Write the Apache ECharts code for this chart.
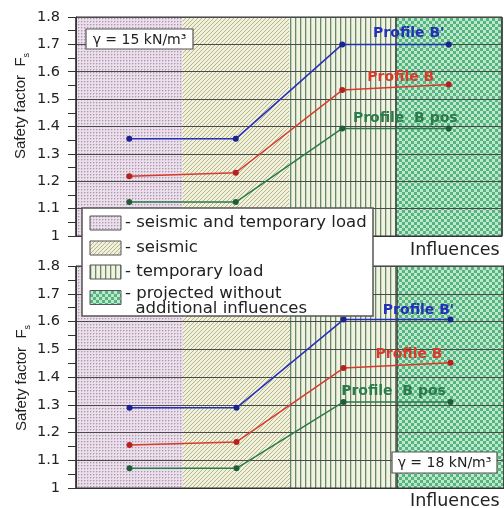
<!DOCTYPE html>
<html><head><meta charset="utf-8">
<script src="https://cdn.jsdelivr.net/npm/echarts@6/dist/echarts.min.js"></script>
<style>html,body{margin:0;padding:0;background:#fff}#c{width:504px;height:508px}</style>
</head><body><div id="c"></div>
<script>
// ---- data ----
const categories = ['seismic and temporary load', 'seismic', 'temporary load', 'projected without additional influences'];
const yTickLabels = ['1', '1.1', '1.2', '1.3', '1.4', '1.5', '1.6', '1.7', '1.8'];
const yMin = 1, yMax = 1.8, yStep = 0.1;
const seriesNames = ["Profile B'", 'Profile B', 'Profile  B pos'];
const top_B1 = [1.355, 1.355, 1.700, 1.700];
const top_B = [1.218, 1.231, 1.533, 1.553];
const top_Bpos = [1.124, 1.124, 1.393, 1.393];
const bot_B1 = [1.289, 1.289, 1.607, 1.607];
const bot_B = [1.155, 1.166, 1.432, 1.451];
const bot_Bpos = [1.071, 1.071, 1.310, 1.310];
const gammaTop = 'γ = 15 kN/m³';
const gammaBot = 'γ = 18 kN/m³';
const legendTexts = ['- seismic and temporary load', '- seismic', '- temporary load', '- projected without\n  additional influences'];
const xName = 'Influences';

// ---- patterns ----
function pat(w, h, draw) {
  const c = document.createElement('canvas'); c.width = w; c.height = h;
  const g = c.getContext('2d'); draw(g); return { image: c, repeat: 'repeat' };
}
const pPurple = pat(3, 3, g => { g.fillStyle = '#eddeed'; g.fillRect(0, 0, 3, 3); g.fillStyle = '#ab9cab'; g.fillRect(0, 0, 1, 1); g.fillStyle='#d0c2d0'; g.fillRect(1,0,1,1); g.fillRect(0,1,1,1); });
const pDiag = pat(4, 4, g => { g.fillStyle = '#f2f2da'; g.fillRect(0, 0, 4, 4); g.fillStyle = '#b3b392'; g.fillRect(3, 0, 1, 1); g.fillRect(2, 1, 1, 1); g.fillRect(1, 2, 1, 1); g.fillRect(0, 3, 1, 1); });
const pVert = pat(5, 1, g => { g.fillStyle = '#eff3df'; g.fillRect(0, 0, 5, 1); g.fillStyle = '#6b876b'; g.fillRect(0, 0, 1, 1); g.fillStyle = '#c9d3c0'; g.fillRect(1, 0, 1, 1); });
const pCheck = pat(6, 6, g => { g.fillStyle = '#bde8cd'; g.fillRect(0, 0, 6, 6); g.fillStyle = '#56b47e'; g.fillRect(0, 0, 3, 3); g.fillRect(3, 3, 3, 3); });
const patterns = [pPurple, pDiag, pVert, pCheck];

const colors = ['#2430b8', '#d83a2c', '#2a7a4c'];
const dotColors = ['#1a2490', '#b82020', '#1d5e38'];

const chart = echarts.init(document.getElementById('c'));
const FONT = 'DejaVu Sans';

function yAxisCfg(gi) {
  return {
    type: 'value', gridIndex: gi, min: yMin, max: yMax, interval: yStep, z: 3,
    axisLine: { show: true, lineStyle: { color: '#333', width: 1 } },
    axisTick: { show: true, length: 8, lineStyle: { color: '#333' } },
    minorTick: { show: true, splitNumber: 2, length: 8, lineStyle: { color: '#333' } },
    splitLine: { show: true, lineStyle: { color: '#4a4a4a', width: 1 } },
    axisLabel: { margin: 16, fontFamily: FONT, fontSize: 14.5, color: '#222',
      formatter: v => yTickLabels[Math.round((v - yMin) / yStep)] }
  };
}
function xAxisCfg(gi) {
  return {
    type: 'category', gridIndex: gi, data: categories, boundaryGap: true, z: 3,
    axisLine: { show: true, lineStyle: { color: '#333', width: 1 } },
    axisTick: { show: false }, axisLabel: { show: false },
    splitLine: { show: true, lineStyle: { color: '#3a3a3a', width: 1.5 } }
  };
}
const labelOffsets = [
  [[-40, -11], [-48, -7.5], [-43.5, -10.5]],
  [[-32, -9], [-41.5, -8], [-57, -11]]
];
function lineSeries(gi, idx, vals) {
  const last = vals.length - 1;
  return {
    type: 'line', name: seriesNames[idx], xAxisIndex: gi, yAxisIndex: gi, z: 5,
    symbol: 'circle', symbolSize: 6, showSymbol: true,
    lineStyle: { color: colors[idx], width: 1.5 },
    itemStyle: { color: dotColors[idx] },
    data: vals.map((v, i) => i === last ? {
      value: v,
      label: { show: true, position: 'inside', offset: labelOffsets[gi][idx], formatter: seriesNames[idx],
        fontFamily: FONT, fontWeight: 'bold', fontSize: 14, color: colors[idx] }
    } : v)
  };
}
function bgSeries(gi) {
  return {
    type: 'bar', xAxisIndex: gi, yAxisIndex: gi, z: 1, silent: true, barWidth: '100%', barCategoryGap: '0%',
    clip: true, animation: false,
    data: categories.map((c, i) => ({ value: yMax, itemStyle: { color: patterns[i] } }))
  };
}

const GZ = 100;
function legendGraphic() {
  const ox = 82, oy = 208;
  const els = [{ type: 'rect', z: GZ, shape: { x: ox, y: oy, width: 291, height: 108 }, style: { fill: '#fff', stroke: '#555', lineWidth: 1.5 } }];
  const ys = [15, 40, 64, 89.5];
  for (let i = 0; i < 4; i++) {
    els.push({ type: 'rect', z: GZ + 1, shape: { x: ox + 8, y: oy + ys[i] - 7, width: 31, height: 14 }, style: { fill: patterns[i], stroke: '#555', lineWidth: 1 } });
    els.push({ type: 'text', z: GZ + 1, x: ox + 43, y: oy + (i < 3 ? ys[i] : ys[i] + 4), style: { text: legendTexts[i], fontFamily: FONT, fontSize: 16.5, lineHeight: 15, fill: '#222', verticalAlign: 'middle', align: 'left' } });
  }
  return els;
}
function gammaBox(x, y, w, h, txt) {
  return [
    { type: 'rect', z: GZ, shape: { x: x, y: y, width: w, height: h }, style: { fill: '#fff', stroke: '#555', lineWidth: 1.2 } },
    { type: 'text', z: GZ + 1, x: x + w / 2, y: y + h / 2 + 1, style: { text: txt, fontFamily: FONT, fontSize: 14, fill: '#222', align: 'center', verticalAlign: 'middle' } }
  ];
}
function yTitle(x, y) {
  return { type: 'text', x: x, y: y, rotation: Math.PI / 2, z: GZ,
    style: { text: '{a|Safety factor  F}{b|s}', align: 'center', verticalAlign: 'middle',
      rich: { a: { fontFamily: 'Liberation Sans', fontSize: 15, lineHeight: 20, fill: '#222' },
              b: { fontFamily: 'Liberation Sans', fontSize: 9, lineHeight: 20, verticalAlign: 'bottom', fill: '#222' } } } };
}

chart.setOption({
  animation: false,
  backgroundColor: '#fff',
  grid: [
    { left: 76, top: 17, width: 426, height: 219, show: true, borderColor: '#333', borderWidth: 1, z: 3 },
    { left: 76, top: 266, width: 435, height: 222, show: true, borderColor: '#333', borderWidth: 1, z: 3 }
  ],
  xAxis: [xAxisCfg(0), xAxisCfg(1)],
  yAxis: [yAxisCfg(0), yAxisCfg(1)],
  series: [
    bgSeries(0), bgSeries(1),
    lineSeries(0, 0, top_B1), lineSeries(0, 1, top_B), lineSeries(0, 2, top_Bpos),
    lineSeries(1, 0, bot_B1), lineSeries(1, 1, bot_B), lineSeries(1, 2, bot_Bpos)
  ],
  graphic: { elements: [
    yTitle(21, 106), yTitle(22, 378),
    { type: 'text', x: 410, y: 250, z: GZ, style: { text: xName, fontFamily: FONT, fontSize: 17.5, fill: '#222', verticalAlign: 'middle' } },
    { type: 'text', x: 410, y: 501, z: GZ, style: { text: xName, fontFamily: FONT, fontSize: 17.5, fill: '#222', verticalAlign: 'middle' } }
  ].concat(gammaBox(86, 29, 107, 20, gammaTop), gammaBox(392, 452, 105, 21, gammaBot), legendGraphic()) }
});
</script></body></html>
